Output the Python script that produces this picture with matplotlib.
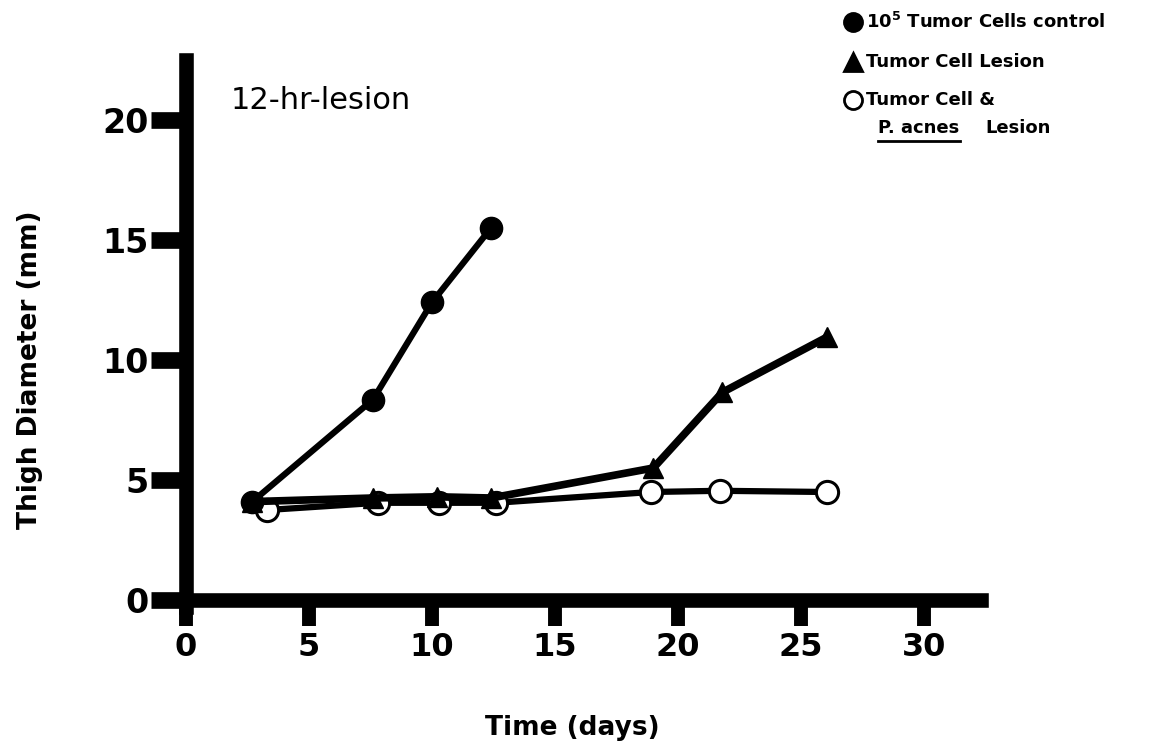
import matplotlib
matplotlib.use("Agg")
import matplotlib.pyplot as plt
from matplotlib.lines import Line2D

# values
ctrl_days = [2.7, 7.6, 10.0, 12.4]
ctrl_mm = [4.1, 8.35, 12.4, 15.5]

lesion_days = [2.7, 7.6, 10.2, 12.4, 19.0, 21.8, 26.05]
lesion_mm = [4.1, 4.25, 4.3, 4.25, 5.5, 8.65, 10.95]

acnes_days = [3.3, 7.8, 10.3, 12.6, 18.9, 21.7, 26.05]
acnes_mm = [3.75, 4.05, 4.05, 4.05, 4.5, 4.55, 4.5]

x_ticks = [0, 5, 10, 15, 20, 25, 30]
y_ticks = [0, 5, 10, 15, 20]

plt.rcParams['font.family'] = ['DejaVu Sans']

W, H = 1158, 752
fig = plt.figure(figsize=(W / 100, H / 100), dpi=100)
ax = fig.add_axes([0.1181, 0.1383, 0.7648, 0.8298])
ax.set_xlim(-2, 34)
ax.set_ylim(-2, 24)

# open circles first, then triangles, then the control on top
ax.plot(acnes_days, acnes_mm, color='black', lw=4.5, marker='o', ms=16,
        mfc='white', mec='black', mew=2.2, zorder=3)
ax.plot(lesion_days, lesion_mm, color='black', lw=5.5, marker='^', ms=15,
        mfc='black', mec='black', zorder=4)
ax.plot(ctrl_days, ctrl_mm, color='black', lw=4.5, marker='o', ms=16,
        mfc='black', mec='black', zorder=5)

# thick axes crossing at zero
for s in ['top', 'right']:
    ax.spines[s].set_visible(False)
ax.spines['left'].set_position(('data', 0))
ax.spines['bottom'].set_position(('data', 0))
ax.spines['left'].set_linewidth(10.5)
ax.spines['bottom'].set_linewidth(10.5)
ax.spines['left'].set_bounds(-0.3, 22.5)
ax.spines['bottom'].set_bounds(-0.85, 32.3)

ax.set_xticks(x_ticks)
ax.set_yticks(y_ticks)
ax.tick_params(axis='x', direction='out', length=19, width=10, pad=4,
               labelsize=23)
ax.tick_params(axis='y', direction='out', length=25, width=12, pad=2,
               labelsize=24)
for lab in ax.get_xticklabels() + ax.get_yticklabels():
    lab.set_fontweight('bold')

ax.text(1.8, 20.8, '12-hr-lesion', fontsize=22, va='center', ha='left')

fig.text(572 / W, 1 - 728 / H, 'Time (days)', fontsize=19, fontweight='bold',
         ha='center', va='center')
fig.text(30 / W, 1 - 370 / H, 'Thigh Diameter (mm)', fontsize=19,
         fontweight='bold', rotation=90, ha='center', va='center')

# hand-made key in the top right corner
def px(x, y):
    return x / W, 1 - y / H

fs = 13
for (mx, my), mk, fill in [((853, 22), 'o', 'black'),
                           ((853, 62), '^', 'black'),
                           ((853, 100), 'o', 'white')]:
    fx, fy = px(mx, my)
    fig.add_artist(Line2D([fx], [fy], marker=mk, ms=13, mfc=fill, mec='black',
                          mew=2, transform=fig.transFigure))

fig.text(*px(866, 22), r'$\mathbf{10^5}$ Tumor Cells control', fontsize=fs,
         fontweight='bold', va='center', ha='left')
fig.text(*px(866, 62), 'Tumor Cell Lesion', fontsize=fs, fontweight='bold',
         va='center', ha='left')
fig.text(*px(866, 100), 'Tumor Cell &', fontsize=fs, fontweight='bold',
         va='center', ha='left')
fig.text(*px(878, 128), 'P. acnes', fontsize=fs, fontweight='bold',
         va='center', ha='left')
fig.text(*px(985, 128), 'Lesion', fontsize=fs, fontweight='bold',
         va='center', ha='left')
x0, y0 = px(878, 141)
x1, _ = px(960, 141)
fig.add_artist(Line2D([x0, x1], [y0, y0], color='black', lw=2,
                      transform=fig.transFigure))

fig.savefig('out.png', dpi=100, facecolor='white')
